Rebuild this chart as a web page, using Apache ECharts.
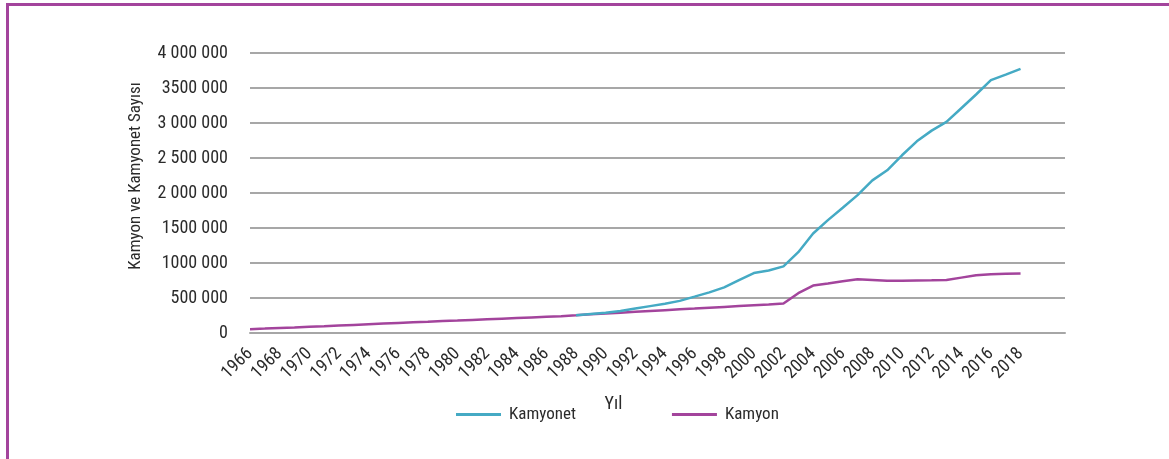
<!DOCTYPE html>
<html>
<head>
<meta charset="utf-8">
<script src="https://cdn.jsdelivr.net/npm/echarts@6/dist/echarts.min.js"></script>
<style>
    html, body { margin: 0; padding: 0; background: #fff; }
    #chart { position: absolute; left: 0; top: 0; width: 1169px; height: 459px; }
    #frame {
        position: absolute; left: 6px; top: 3px; right: 0; bottom: 0;
        border-top: 3px solid #a3449c; border-left: 3px solid #a3449c;
        pointer-events: none;
    }
</style>
</head>
<body>
<div id="chart"></div>
<div id="frame"></div>
<script>
// yıllar (eksen kategorileri)
const years = [
    '1966', '1967', '1968', '1969', '1970', '1971', '1972', '1973', '1974', '1975',
    '1976', '1977', '1978', '1979', '1980', '1981', '1982', '1983', '1984', '1985',
    '1986', '1987', '1988', '1989', '1990', '1991', '1992', '1993', '1994', '1995',
    '1996', '1997', '1998', '1999', '2000', '2001', '2002', '2003', '2004', '2005',
    '2006', '2007', '2008', '2009', '2010', '2011', '2012', '2013', '2014', '2015',
    '2016', '2017', '2018', '2019', '2020', '2021'
];

// Kamyon 1966-2018
const kamyon = [
    55000, 63000, 72000, 80000, 90000, 98000, 107000, 116000, 125000, 134000,
    143000, 152000, 160000, 170000, 178000, 187000, 196000, 205000, 214000, 223000,
    232000, 241000, 252000, 267000, 279000, 290000, 302000, 314000, 326000, 338000,
    349000, 361000, 373000, 385000, 397000, 408000, 420000, 569000, 678000, 708000,
    739000, 767000, 756000, 745000, 746000, 750000, 753000, 757000, 791000, 825000,
    838000, 845000, 851000
];

// Kamyonet 1988-2018
const kamyonetStart = '1988';
const kamyonet = [
    252000, 271000, 290000, 313000, 349000, 384000, 419000, 459000, 519000, 580000,
    651000, 757000, 857000, 893000, 952000, 1154000, 1421000, 1612000, 1790000, 1969000,
    2180000, 2324000, 2539000, 2738000, 2891000, 3015000, 3211000, 3407000, 3612000, 3691000,
    3774000
];

const yTickLabels = ['0', '500 000', '1000 000', '1500 000', '2 000 000', '2 500 000', '3 000 000', '3500 000', '4 000 000'];
const hiddenYearLabels = ['2020'];

const font = "'Liberation Sans Narrow', 'Roboto Condensed', 'DejaVu Sans Condensed', sans-serif";
const textColor = '#2b2b2b';

const chart = echarts.init(document.getElementById('chart'));

const offset = years.indexOf(kamyonetStart);
const kamyonetData = years.map((y, i) => (i >= offset && i - offset < kamyonet.length) ? kamyonet[i - offset] : null);

chart.setOption({
    animation: false,
    backgroundColor: '#fff',
    grid: { left: 250, right: 104, top: 53, bottom: 126 },
    legend: {
        left: 451,
        top: 401,
        itemWidth: 45,
        itemHeight: 3,
        itemGap: 96,
        icon: 'rect',
        textStyle: { fontFamily: font, fontSize: 17, color: textColor, padding: [0, 0, 0, 3] },
        data: ['Kamyonet', 'Kamyon']
    },
    xAxis: {
        type: 'category',
        data: years,
        boundaryGap: false,
        name: 'Yıl',
        nameLocation: 'middle',
        nameGap: 62,
        nameTextStyle: { fontFamily: font, fontSize: 18, color: textColor, padding: [0, 88, 0, 0] },
        axisLine: { lineStyle: { color: '#a6a6a6', width: 2 } },
        axisTick: { show: false },
        axisLabel: {
            interval: 1,
            rotate: 45,
            margin: 18,
            fontFamily: font,
            fontSize: 18,
            color: textColor,
            formatter: v => hiddenYearLabels.includes(v) ? '' : v
        },
        splitLine: { show: false }
    },
    yAxis: {
        type: 'value',
        min: 0,
        max: 4000000,
        interval: 500000,
        name: 'Kamyon ve Kamyonet Sayısı',
        nameLocation: 'middle',
        nameGap: 106,
        nameTextStyle: { fontFamily: font, fontSize: 17, color: textColor, padding: [0, 0, 0, 34] },
        axisLine: { show: false },
        axisTick: { show: false },
        axisLabel: {
            margin: 22,
            fontFamily: font,
            fontSize: 18,
            color: textColor,
            formatter: v => yTickLabels[Math.round(v / 500000)]
        },
        splitLine: { lineStyle: { color: '#8a8a8a', width: 1.5 } }
    },
    series: [
        {
            name: 'Kamyonet',
            type: 'line',
            data: kamyonetData,
            symbol: 'none',
            z: 3,
            itemStyle: { color: '#45aac4' },
            lineStyle: { color: '#45aac4', width: 2.5 }
        },
        {
            name: 'Kamyon',
            type: 'line',
            data: kamyon,
            symbol: 'none',
            z: 2,
            itemStyle: { color: '#a3449c' },
            lineStyle: { color: '#a3449c', width: 2.5 }
        }
    ]
});
</script>
</body>
</html>
